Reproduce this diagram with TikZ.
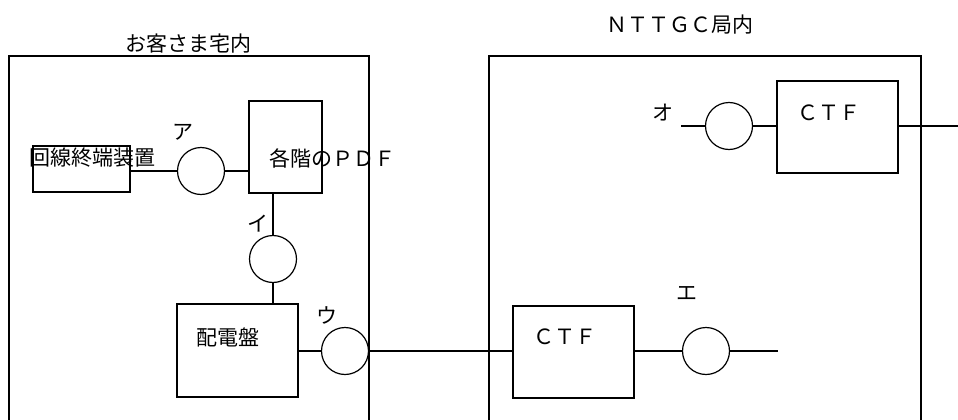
\documentclass[tikz,border=0pt]{standalone}
\usepackage{fontspec}
\setmainfont{Noto Sans CJK JP}
\usetikzlibrary{positioning}

\begin{document}
\begin{tikzpicture}[x=1pt, y=-1pt, every node/.style={font=\fontsize{21}{24}\selectfont}]
\tikzset{
    area/.style={line width=1.2pt},
    unitbox/.style={draw, line width=1.2pt, rectangle, inner sep=0pt},
    jack/.style={draw, line width=1.2pt, circle, minimum size=47pt, inner sep=0pt},
    wire/.style={line width=1.2pt},
    tag/.style={inner sep=0pt}
}
\useasboundingbox (0,0) rectangle (958,420);

% Premises and building outlines
\draw[area] (9,420) -- (9,56) -- (369,56) -- (369,420);
\draw[area] (489,420) -- (489,56) -- (921,56) -- (921,420);
\node[tag] (home) at (188,44) {お客さま宅内};
\node[tag] (office) at (680,25) {ＮＴＴＧＣ局内};

% Customer side
\node[unitbox, minimum width=97pt, minimum height=46pt] (onu) at (81.5,169) {};
\node[unitbox, minimum width=73pt, minimum height=92pt] (pdf) at (285.5,147) {};
\node[unitbox, minimum width=121pt, minimum height=93pt] (panel) at (237.5,350.5) {};
\node[jack] (a) at (201,171) {};
\node[jack] (i) at (273,259) {};
\node[jack] (u) at (345,351) {};
\node[tag, anchor=west] (onutext) at (29,158) {回線終端装置};
\node[tag, anchor=west] (pdftext) at (269,158) {各階のＰＤＦ};
\node[tag, anchor=west] (paneltext) at (196,337) {配電盤};
\node[tag] (la) at (183,132) {ア};
\node[tag] (li) at (258,224) {イ};
\node[tag] (lu) at (327,315) {ウ};

% Office side
\node[unitbox, minimum width=121pt, minimum height=92pt] (ctfA) at (573.5,352) {};
\node[unitbox, minimum width=121pt, minimum height=92pt] (ctfB) at (837.5,127) {};
\node[jack] (e) at (706,351) {};
\node[jack] (o) at (729,126) {};
\node[tag, anchor=west] (ctfAtext) at (533,337) {ＣＴＦ};
\node[tag, anchor=west] (ctfBtext) at (797,113) {ＣＴＦ};
\node[tag] (le) at (687,293) {エ};
\node[tag] (lo) at (663,113) {オ};
\coordinate (eEnd) at (778,351);
\coordinate (oEnd) at (681,126);
\coordinate (outR) at (958,126);

% Wiring
\draw[wire] (a.west -| onu.east) -- (a.west);
\draw[wire] (a.east) -- (a.east -| pdf.west);
\draw[wire] (pdf.south -| i.north) -- (i.north);
\draw[wire] (i.south) -- (i.south |- panel.north);
\draw[wire] (u.west -| panel.east) -- (u.west);
\draw[wire] (u.east) -- (u.east -| ctfA.west);
\draw[wire] (e.west -| ctfA.east) -- (e.west);
\draw[wire] (e.east) -- (eEnd);
\draw[wire] (oEnd) -- (o.west);
\draw[wire] (o.east) -- (o.east -| ctfB.west);
\draw[wire] (ctfB.east |- outR) -- (outR);
\end{tikzpicture}
\end{document}
